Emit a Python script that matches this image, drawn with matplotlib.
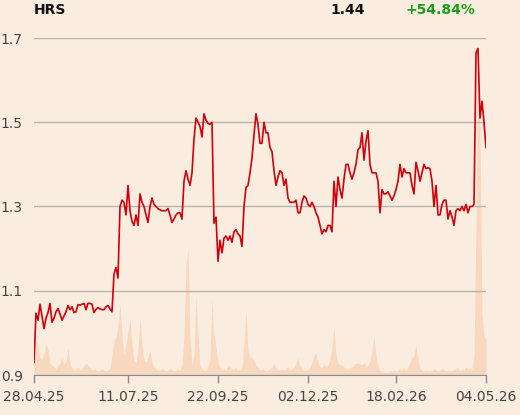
import numpy as np
import matplotlib
matplotlib.use("Agg")
import matplotlib.pyplot as plt

# closing price per session (HRS)
price = [
    0.93, 1.047, 1.03, 1.068, 1.04,
    1.01, 1.035, 1.048, 1.07, 1.025,
    1.035, 1.05, 1.058, 1.045, 1.03,
    1.04, 1.05, 1.065, 1.055, 1.062,
    1.048, 1.05, 1.067, 1.066, 1.068,
    1.07, 1.055, 1.07, 1.07, 1.068,
    1.048, 1.056, 1.06, 1.057, 1.055,
    1.055, 1.062, 1.065, 1.057, 1.05,
    1.14, 1.155, 1.13, 1.30, 1.315,
    1.31, 1.28, 1.35, 1.29, 1.265,
    1.255, 1.28, 1.255, 1.33, 1.31,
    1.30, 1.28, 1.262, 1.30, 1.32,
    1.305, 1.30, 1.295, 1.292, 1.29,
    1.29, 1.29, 1.295, 1.28, 1.262,
    1.27, 1.28, 1.285, 1.285, 1.27,
    1.36, 1.385, 1.365, 1.35, 1.38,
    1.46, 1.51, 1.50, 1.49, 1.465,
    1.52, 1.505, 1.497, 1.495, 1.50,
    1.26, 1.275, 1.17, 1.22, 1.19,
    1.225, 1.23, 1.22, 1.23, 1.215,
    1.24, 1.245, 1.235, 1.23, 1.205,
    1.30, 1.345, 1.35, 1.38, 1.415,
    1.47, 1.52, 1.495, 1.45, 1.45,
    1.50, 1.475, 1.475, 1.44, 1.43,
    1.385, 1.35, 1.37, 1.385, 1.38,
    1.35, 1.365, 1.32, 1.31, 1.31,
    1.31, 1.315, 1.285, 1.285, 1.31,
    1.325, 1.32, 1.305, 1.30, 1.31,
    1.30, 1.285, 1.275, 1.255, 1.235,
    1.245, 1.24, 1.255, 1.255, 1.24,
    1.36, 1.30, 1.37, 1.34, 1.32,
    1.365, 1.40, 1.40, 1.38, 1.365,
    1.38, 1.40, 1.435, 1.44, 1.475,
    1.41, 1.455, 1.48, 1.40, 1.38,
    1.38, 1.38, 1.36, 1.285, 1.34,
    1.33, 1.33, 1.335, 1.325, 1.315,
    1.325, 1.34, 1.36, 1.40, 1.37,
    1.39, 1.38, 1.38, 1.38, 1.35,
    1.33, 1.405, 1.385, 1.36, 1.38,
    1.40, 1.39, 1.392, 1.39, 1.36,
    1.30, 1.35, 1.28, 1.28, 1.305,
    1.315, 1.315, 1.27, 1.29, 1.275,
    1.255, 1.29, 1.295, 1.29, 1.30,
    1.29, 1.305, 1.285, 1.30, 1.30,
    1.305, 1.665, 1.675, 1.51, 1.55,
    1.50, 1.44,
]

# traded volume per session (thousand shares)
volume = [
    5, 35, 30, 18, 15,
    22, 32, 25, 12, 10,
    8, 6, 10, 12, 17,
    10, 14, 27, 12, 6,
    5, 6, 8, 5, 6,
    10, 12, 10, 8, 5,
    6, 5, 4, 5, 6,
    5, 4, 5, 6, 20,
    35, 38, 50, 72, 40,
    20, 30, 45, 57, 30,
    15, 12, 25, 57, 30,
    15, 12, 18, 25, 12,
    8, 6, 5, 5, 6,
    5, 4, 5, 6, 5,
    4, 5, 6, 5, 10,
    40, 110, 127, 40, 10,
    20, 80, 40, 10, 6,
    5, 5, 8, 15, 76,
    40, 28, 12, 8, 5,
    6, 5, 10, 8, 6,
    6, 7, 5, 6, 8,
    30, 65, 25, 18, 18,
    14, 10, 8, 5, 6,
    5, 4, 5, 6, 8,
    12, 7, 5, 5, 6,
    5, 6, 8, 5, 6,
    8, 12, 17, 10, 6,
    5, 5, 6, 8, 12,
    20, 22, 12, 8, 8,
    10, 9, 10, 15, 30,
    48, 20, 12, 10, 10,
    8, 6, 5, 7, 8,
    10, 12, 12, 11, 10,
    12, 8, 10, 14, 25,
    38, 20, 8, 4, 3,
    3, 3, 3, 4, 4,
    5, 4, 5, 6, 6,
    7, 5, 8, 12, 18,
    20, 30, 15, 6, 5,
    4, 5, 4, 5, 4,
    6, 5, 4, 5, 6,
    5, 4, 5, 4, 5,
    5, 6, 7, 5, 6,
    6, 8, 6, 7, 6,
    20, 150, 325, 250, 60,
    40, 35,
]

tick_sessions = [0, 47, 92, 137, 181, 226]
tick_labels = ["28.04.25", "11.07.25", "22.09.25", "02.12.25", "18.02.26", "04.05.26"]
y_ticks = [0.9, 1.1, 1.3, 1.5, 1.7]

ticker = "HRS"
last = "1.44"
change = "+54.84%"

bg = "#fbece0"
fig = plt.figure(figsize=(5.2, 4.15), dpi=100, facecolor=bg)
ax = fig.add_axes([34/520, 40/415, 452/520, 337/415])
axv = ax.twinx()
ax.set_zorder(axv.get_zorder() + 1)
ax.patch.set_visible(False)
axv.set_facecolor(bg)

x = np.arange(len(price))
xv = np.arange(len(volume))

axv.fill_between(xv, 0, volume, color="#f7d3b6", alpha=0.75, linewidth=0)
axv.set_ylim(0, 337)
axv.set_yticks([])
for s in axv.spines.values():
    s.set_visible(False)

ax.plot(x, price, color="#d0000b", linewidth=1.2)
ax.set_xlim(0, len(price) - 1)
ax.set_ylim(0.9, 1.7)
ax.set_yticks(y_ticks)
ax.set_yticklabels([f"{v:.1f}" for v in y_ticks])
ax.grid(axis="y", color="#b8b4b0", linewidth=1)
ax.set_xticks(tick_sessions)
ax.set_xticklabels(tick_labels)

for s in ["top", "right", "left"]:
    ax.spines[s].set_visible(False)
ax.spines["bottom"].set_color("#8c8c8c")
ax.tick_params(axis="y", length=0, pad=8, labelsize=10, labelcolor="#444444")
ax.tick_params(axis="x", length=6, width=1, color="#8c8c8c", pad=5,
               labelsize=10, labelcolor="#444444")

# header
fig.text(34/520, 1 - 10/415, ticker, fontsize=10, fontweight="bold",
         color="#111111", va="center", ha="left")
fig.text(365/520, 1 - 10/415, last, fontsize=10, fontweight="bold",
         color="#111111", va="center", ha="right")
fig.text(475/520, 1 - 10/415, change, fontsize=10, fontweight="bold",
         color="#1a9e1a", va="center", ha="right")

plt.savefig("out.png", dpi=100, facecolor=bg)
